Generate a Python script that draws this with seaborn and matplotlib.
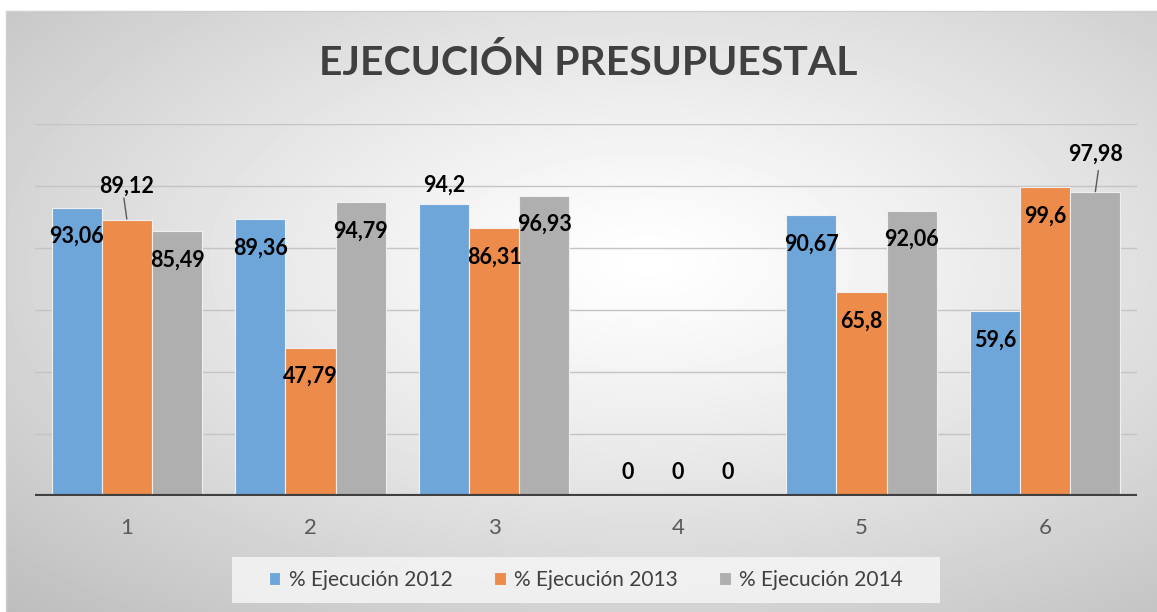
import numpy as np
import pandas as pd
import matplotlib.pyplot as plt
import seaborn as sns

# datos
categorias = ['1', '2', '3', '4', '5', '6']
series = ['% Ejecución 2012', '% Ejecución 2013', '% Ejecución 2014']
ejec_2012 = [93.06, 89.36, 94.2, 0, 90.67, 59.6]
ejec_2013 = [89.12, 47.79, 86.31, 0, 65.8, 99.6]
ejec_2014 = [85.49, 94.79, 96.93, 0, 92.06, 97.98]
colores = ['#6fa6d9', '#ec8b4a', '#afafaf']

df = pd.DataFrame({
    'categoria': categorias * 3,
    'serie': np.repeat(series, len(categorias)),
    'valor': ejec_2012 + ejec_2013 + ejec_2014,
})

sns.set_theme(style='white')
plt.rcParams['font.family'] = ['Lato', 'DejaVu Sans']

fig = plt.figure(figsize=(11.57, 6.12), dpi=100)

# fondo con degradado radial
bg = fig.add_axes([6 / 1157, 0, 1 - 6 / 1157, 1 - 11 / 612])
h, w = 601, 1151
yy, xx = np.mgrid[0:h, 0:w]
cx, cy = 640, 250
r = np.sqrt(((xx - cx) / w) ** 2 + ((yy - cy) / h) ** 2)
r = r / r.max()
grad = 1 - 0.26 * r ** 1.2
bg.imshow(grad, cmap='gray', vmin=0, vmax=1, aspect='auto', interpolation='bilinear')
bg.set_axis_off()
fig.add_artist(plt.Line2D([6 / 1157, 1], [1 - 11 / 612] * 2, color='#cfcfcf', lw=1))
fig.add_artist(plt.Line2D([6 / 1157] * 2, [0, 1 - 11 / 612], color='#cfcfcf', lw=1))

# caja de la leyenda (en el eje de fondo para que quede debajo)
bg.add_patch(plt.Rectangle((232 / 1157, 1 - 603 / 612), 708 / 1157, 46 / 612,
                           transform=fig.transFigure, facecolor='#f3f3f3',
                           edgecolor='none', alpha=0.9, clip_on=False))

ax = fig.add_axes([35 / 1157, 1 - 496 / 612, 1102 / 1157, 372 / 612])
ax.patch.set_alpha(0)

sns.barplot(data=df, x='categoria', y='valor', hue='serie', palette=colores,
            width=0.82, edgecolor='#f0f0f0', linewidth=0.8, saturation=1,
            legend=True, ax=ax)

ax.set_ylim(0, 120)
ax.set_xlim(-0.5, 5.5)
ax.set_yticks(np.arange(0, 121, 20))
ax.yaxis.grid(True, color='#c4c4c4', lw=1)
ax.set_axisbelow(True)
ax.set_yticklabels([])
ax.tick_params(axis='y', length=0)
ax.tick_params(axis='x', length=0, pad=16, labelsize=16, labelcolor='#595959')
ax.set_xlabel('')
ax.set_ylabel('')
for s in ax.spines.values():
    s.set_visible(False)
ax.axhline(0, color='#404040', lw=3, zorder=5)

# etiquetas de datos
ajustes = {(0, 1): 10.9, (2, 0): 6.1, (5, 2): 12.3}
guias = {(0, 1): -0.016, (5, 2): 0.016}
for j, cont in enumerate(ax.containers):
    for i, barra in enumerate(cont):
        v = barra.get_height()
        xc = barra.get_x() + barra.get_width() / 2
        if v == 0:
            y = 7.7
        else:
            y = v + ajustes.get((i, j), -9.3)
        txt = f'{v:g}'.replace('.', ',')
        ax.text(xc, y, txt, ha='center', va='center', fontsize=15.5,
                fontweight='bold', color='black', zorder=6)
        if (i, j) in guias:
            ax.plot([xc + guias[(i, j)], xc], [v + 7.0, v + 0.2],
                    color='#595959', lw=1, zorder=6)

ax.legend(loc='center', bbox_to_anchor=((586 - 35) / 1102, (612 - 580 - (612 - 496)) / 372),
          ncol=3, frameon=False, fontsize=15, handlelength=0.55, handleheight=0.55,
          columnspacing=2.0, handletextpad=0.4, borderpad=0.6, borderaxespad=0)
for t in ax.get_legend().get_texts():
    t.set_color('#404040')

fig.text(588 / 1157, 1 - 63 / 612, 'EJECUCIÓN PRESUPUESTAL', ha='center', va='center',
         fontsize=29.4, fontweight='bold', color='#404040')

fig.savefig('out.png', dpi=100)
